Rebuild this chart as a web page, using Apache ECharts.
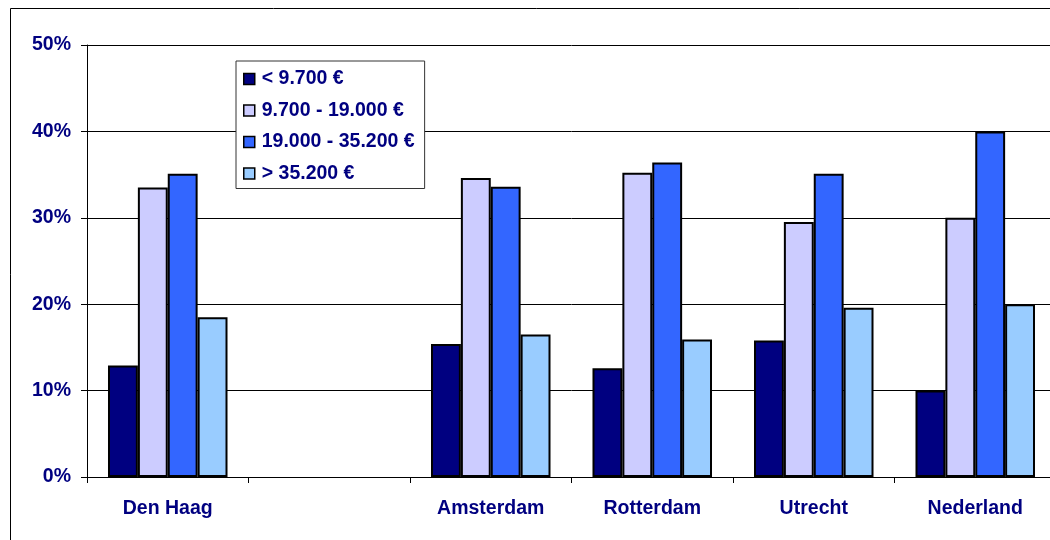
<!DOCTYPE html>
<html lang="nl" style="height: 100%">
<head>
  <meta charset="utf-8">
</head>
<body style="height: 100%; margin: 0; background: #fff; overflow: hidden">
  <div id="container" style="width:1062px;height:540px"></div>

  <script type="text/javascript" src="https://cdn.jsdelivr.net/npm/echarts@6/dist/echarts.min.js"></script>

  <script type="text/javascript">
    // categorieen (tweede kolom is leeg in het origineel)
    var steden = ['Den Haag', '', 'Amsterdam', 'Rotterdam', 'Utrecht', 'Nederland'];
    var yTicks = [0, 10, 20, 30, 40, 50];

    // inkomensklassen, waarden in %
    var laag    = [12.9, '-', 15.4, 12.6, 15.8, 10.0];   // < 9.700
    var middel1 = [33.5, '-', 34.6, 35.2, 29.5, 30.0];   // 9.700 - 19.000
    var middel2 = [35.1, '-', 33.6, 36.4, 35.1, 40.0];   // 19.000 - 35.200
    var hoog    = [18.5, '-', 16.5, 15.9, 19.6, 20.0];   // > 35.200

    var klassen = ['< 9.700 €', '9.700 - 19.000 €', '19.000 - 35.200 €', '> 35.200 €'];
    var kleuren = ['#000080', '#CCCCFF', '#3366FF', '#99CCFF'];
    var reeksen = [laag, middel1, middel2, hoog];

    var navy = '#000080';
    var font = 'Arial, "Liberation Sans", sans-serif';
    var fs = 19.5;

    var dom = document.getElementById('container');
    var myChart = echarts.init(dom, null, { renderer: 'canvas' });

    var option = {
      animation: false,
      backgroundColor: '#fff',
      textStyle: { fontFamily: font },
      // kader om de hele grafiek
      graphic: [{
        type: 'rect',
        shape: { x: 10.5, y: 8.5, width: 1100, height: 600 },
        style: { fill: null, stroke: '#000', lineWidth: 1 },
        z: -1
      }],
      legend: {
        orient: 'vertical',
        left: 236,
        top: 61,
        padding: [8, 10, 5, 7],
        itemGap: 11.5,
        itemWidth: 11,
        itemHeight: 11,
        backgroundColor: '#fff',
        borderColor: '#333',
        borderWidth: 1,
        borderRadius: 0,
        icon: 'rect',
        itemStyle: { borderColor: '#000', borderWidth: 1.5 },
        textStyle: {
          color: navy,
          fontWeight: 'bold',
          fontSize: fs,
          fontFamily: font,
          lineHeight: 20,
          padding: [0, 0, 0, 2]
        },
        data: klassen
      },
      grid: {
        left: 87,
        right: 6,
        top: 45,
        bottom: 63,
        containLabel: false
      },
      xAxis: {
        type: 'category',
        data: steden,
        axisLine: { lineStyle: { color: '#000', width: 1 } },
        axisTick: { show: true, length: 6, lineStyle: { color: '#000' } },
        axisLabel: {
          color: navy,
          fontWeight: 'bold',
          fontSize: fs,
          fontFamily: font,
          margin: 22,
          interval: 0
        },
        splitLine: { show: false }
      },
      yAxis: {
        type: 'value',
        min: 0,
        max: 50,
        interval: 10,
        axisLine: { show: true, lineStyle: { color: '#000', width: 1 } },
        axisTick: { show: true, length: 6, lineStyle: { color: '#000' } },
        axisLabel: {
          color: navy,
          fontWeight: 'bold',
          fontSize: fs,
          fontFamily: font,
          margin: 16,
          formatter: function (v) {
            return yTicks.indexOf(v) >= 0 ? v + '%' : '';
          }
        },
        splitLine: { show: true, lineStyle: { color: '#000', width: 1 } }
      },
      series: reeksen.map(function (d, i) {
        return {
          name: klassen[i],
          type: 'bar',
          data: d,
          barGap: '0%',
          barCategoryGap: '26%',
          itemStyle: {
            color: kleuren[i],
            borderColor: '#000',
            borderWidth: 2
          }
        };
      })
    };

    myChart.setOption(option);
    window.addEventListener('resize', myChart.resize);
  </script>
</body>
</html>
